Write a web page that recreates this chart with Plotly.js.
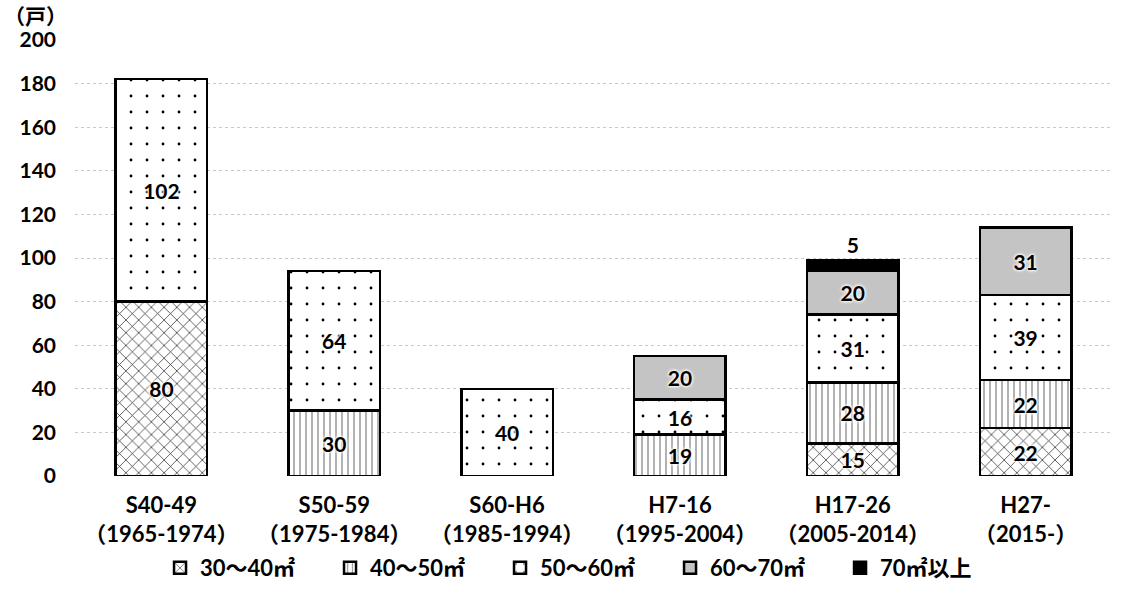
<!DOCTYPE html>
<html>
<head>
<meta charset="utf-8">
<script src="https://cdn.plot.ly/plotly-3.0.1.min.js"></script>
<style>
  html, body { margin: 0; padding: 0; background: #fff; }
  #chart { width: 1131px; height: 601px; }
</style>
</head>
<body>
<div id="chart"></div>
<script>
// 建築年代別の戸数（住戸面積別）
var periods = [
  'S40-49<br>（1965-1974）',
  'S50-59<br>（1975-1984）',
  'S60-H6<br>（1985-1994）',
  'H7-16<br>（1995-2004）',
  'H17-26<br>（2005-2014）',
  'H27-<br>（2015-）'
];

var seriesNames = ['30～40㎡', '40～50㎡', '50～60㎡', '60～70㎡', '70㎡以上'];

var v30_40 = [80, 0, 0, 0, 15, 22];
var v40_50 = [0, 30, 0, 19, 28, 22];
var v50_60 = [102, 64, 40, 16, 31, 39];
var v60_70 = [0, 0, 0, 20, 20, 31];
var v70up  = [0, 0, 0, 0, 5, 0];

var yTicks = [0, 20, 40, 60, 80, 100, 120, 140, 160, 180, 200];

var FONT = 'Lato, "Noto Sans CJK JP", sans-serif';

function makeTrace(name, vals, fill, pos) {
  return {
    type: 'bar',
    name: name,
    x: periods,
    y: vals.map(function (v) { return v === 0 ? null : v; }),
    text: vals.map(function (v) { return v === 0 ? '' : String(v); }),
    textposition: pos || 'inside',
    insidetextanchor: 'middle',
    constraintext: 'none',
    textangle: 0,
    textfont: { family: FONT, size: 21, weight: 'bold', color: '#000',
                shadow: '0 0 3px #fff, 0 0 3px #fff, 0 0 4px #fff' },
    marker: Object.assign({ line: { color: '#000', width: 2.5 } }, fill),
    hoverinfo: 'none'
  };
}

var data = [
  makeTrace(seriesNames[0], v30_40, {
    color: '#fff',
    pattern: { shape: 'x', fgcolor: '#222', bgcolor: '#fff', size: 9, solidity: 0.15 }
  }),
  makeTrace(seriesNames[1], v40_50, {
    color: '#fff',
    pattern: { shape: '|', fgcolor: '#999', bgcolor: '#fff', size: 6, solidity: 0.25 }
  }),
  makeTrace(seriesNames[2], v50_60, {
    color: '#fff',
    pattern: { shape: '.', fgcolor: '#000', bgcolor: '#fff', size: 16, solidity: 0.025 }
  }),
  makeTrace(seriesNames[3], v60_70, { color: '#c4c4c4' }),
  makeTrace(seriesNames[4], v70up, { color: '#000' }, 'outside')
];

var layout = {
  width: 1131,
  height: 601,
  barmode: 'stack',
  bargap: 0.47,
  paper_bgcolor: '#fff',
  plot_bgcolor: '#fff',
  margin: { l: 75, r: 19, t: 40, b: 110 },
  font: { family: FONT, size: 21, color: '#000', weight: 'bold' },
  xaxis: {
    tickfont: { family: FONT, size: 22, weight: 'bold' },
    showline: false,
    ticks: '',
    ticklabelstandoff: 14,
    automargin: false,
    fixedrange: true
  },
  yaxis: {
    range: [0, 200],
    tickvals: yTicks,
    ticktext: yTicks.map(String),
    tickfont: { family: FONT, size: 21, weight: 'bold' },
    showgrid: true,
    gridcolor: '#c8c8c8',
    griddash: 'dot',
    gridwidth: 1,
    zeroline: false,
    showline: false,
    ticks: '',
    ticklabelstandoff: 18,
    automargin: false,
    fixedrange: true
  },
  legend: {
    orientation: 'h',
    x: 0.082,
    xanchor: 'left',
    y: -0.163,
    yanchor: 'top',
    bgcolor: 'rgba(0,0,0,0)',
    font: { family: FONT, size: 22, weight: 'bold' },
    itemwidth: 30,
    entrywidth: 125,
    entrywidthmode: 'pixels',
    traceorder: 'normal'
  },
  annotations: [{
    text: '（戸）',
    xref: 'paper', yref: 'paper',
    x: -0.07, y: 1.0,
    xanchor: 'left', yanchor: 'bottom',
    yshift: 10,
    showarrow: false,
    font: { family: FONT, size: 21, weight: 'bold' }
  }],
  showlegend: true
};

Plotly.newPlot('chart', data, layout, { displayModeBar: false, staticPlot: true });
</script>
</body>
</html>
